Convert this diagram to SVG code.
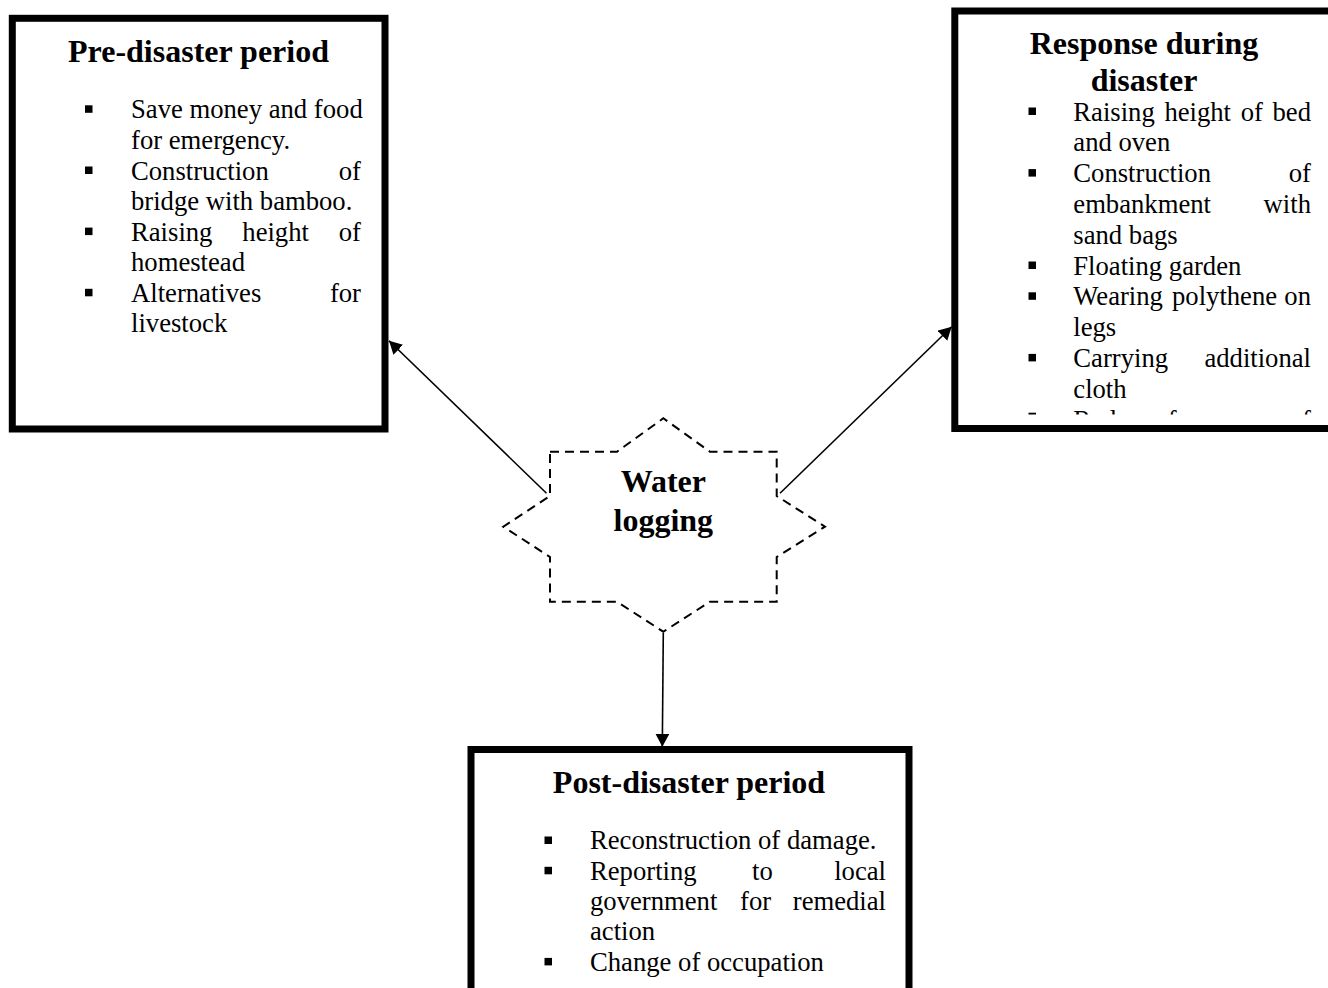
<svg xmlns="http://www.w3.org/2000/svg" width="1328" height="988" viewBox="0 0 1328 988">
  <style>
    .box { fill: #ffffff; stroke: #000000; stroke-width: 7; }
    .star { fill: #ffffff; stroke: #000000; stroke-width: 2; stroke-dasharray: 9 6; }
    .title { font-family: "Liberation Serif", "Times New Roman", serif; font-size: 32px; font-weight: bold; fill: #000000; text-anchor: middle; }
    .item { font-family: "Liberation Serif", "Times New Roman", serif; font-size: 26.67px; fill: #000000; }
    .end { text-anchor: end; }
    .bullet { fill: #000000; }
    .link { fill: none; stroke: #000000; stroke-width: 1.6; }
  </style>
  <defs>
    <marker id="arrow" viewBox="0 0 13 14" refX="13" refY="7" markerWidth="13" markerHeight="14" markerUnits="userSpaceOnUse" orient="auto">
      <path d="M0,0 L13,7 L0,14 Z" fill="#000000"/>
    </marker>
    <!-- text area of the response box ends above the bottom border -->
    <clipPath id="responseClip">
      <rect x="958" y="14" width="370" height="400.5"/>
    </clipPath>
  </defs>

  <rect x="0" y="0" width="1328" height="988" fill="#ffffff"/>

  <!-- Pre-disaster period -->
  <g id="node-pre-disaster">
    <rect class="box" x="12.3" y="18.3" width="372.7" height="410.7"/>
    <text class="title" x="198.5" y="62">Pre-disaster period</text>
    <rect class="bullet" x="85" y="105.3" width="7.5" height="7.5"/>
    <rect class="bullet" x="85" y="166.5" width="7.5" height="7.5"/>
    <rect class="bullet" x="85" y="227.6" width="7.5" height="7.5"/>
    <rect class="bullet" x="85" y="288.8" width="7.5" height="7.5"/>
    <text class="item" x="131" y="118.3">Save money and food</text>
    <text class="item" x="131" y="148.9">for emergency.</text>
    <text class="item" y="179.5"><tspan x="131">Construction</tspan><tspan class="end" x="361">of</tspan></text>
    <text class="item" x="131" y="210">bridge with bamboo.</text>
    <text class="item" y="240.6"><tspan x="131">Raising</tspan><tspan x="242.3">height</tspan><tspan class="end" x="361">of</tspan></text>
    <text class="item" x="131" y="271.2">homestead</text>
    <text class="item" y="301.8"><tspan x="131">Alternatives</tspan><tspan class="end" x="361">for</tspan></text>
    <text class="item" x="131" y="332.3">livestock</text>
  </g>

  <!-- Response during disaster -->
  <g id="node-response">
    <rect class="box" x="954.8" y="11" width="400" height="417.5"/>
    <text class="title" x="1144" y="53.5">Response during</text>
    <text class="title" x="1144" y="90.5">disaster</text>
    <g clip-path="url(#responseClip)">
      <rect class="bullet" x="1028.5" y="107.5" width="7.5" height="7.5"/>
      <rect class="bullet" x="1028.5" y="169.1" width="7.5" height="7.5"/>
      <rect class="bullet" x="1028.5" y="261.5" width="7.5" height="7.5"/>
      <rect class="bullet" x="1028.5" y="292.3" width="7.5" height="7.5"/>
      <rect class="bullet" x="1028.5" y="353.9" width="7.5" height="7.5"/>
      <rect class="bullet" x="1028.5" y="412.7" width="7.5" height="7.5"/>
      <text class="item" y="120.5"><tspan x="1073.3">Raising</tspan><tspan x="1164.4">height</tspan><tspan x="1240.7">of</tspan><tspan class="end" x="1311">bed</tspan></text>
      <text class="item" x="1073.3" y="151.3">and oven</text>
      <text class="item" y="182.1"><tspan x="1073.3">Construction</tspan><tspan class="end" x="1311">of</tspan></text>
      <text class="item" y="212.9"><tspan x="1073.3">embankment</tspan><tspan class="end" x="1311">with</tspan></text>
      <text class="item" x="1073.3" y="243.7">sand bags</text>
      <text class="item" x="1073.3" y="274.5">Floating garden</text>
      <text class="item" y="305.3"><tspan x="1073.3">Wearing</tspan><tspan x="1172">polythene</tspan><tspan class="end" x="1311">on</tspan></text>
      <text class="item" x="1073.3" y="336.1">legs</text>
      <text class="item" y="366.9"><tspan x="1073.3">Carrying</tspan><tspan class="end" x="1311">additional</tspan></text>
      <text class="item" x="1073.3" y="397.7">cloth</text>
      <text class="item" y="429"><tspan x="1073.3">Reduce</tspan><tspan x="1167.8">frequency</tspan><tspan class="end" x="1311">of</tspan></text>
    </g>
  </g>

  <!-- Post-disaster period -->
  <g id="node-post-disaster">
    <rect class="box" x="471" y="749.5" width="438" height="300"/>
    <text class="title" x="689" y="793.3">Post-disaster period</text>
    <rect class="bullet" x="544.5" y="836.5" width="7.5" height="7.5"/>
    <rect class="bullet" x="544.5" y="866.8" width="7.5" height="7.5"/>
    <rect class="bullet" x="544.5" y="957.9" width="7.5" height="7.5"/>
    <text class="item" x="590" y="849.3">Reconstruction of damage.</text>
    <text class="item" y="879.6"><tspan x="590">Reporting</tspan><tspan x="752">to</tspan><tspan class="end" x="886">local</tspan></text>
    <text class="item" y="910"><tspan x="590">government</tspan><tspan x="740">for</tspan><tspan class="end" x="886">remedial</tspan></text>
    <text class="item" x="590" y="940.3">action</text>
    <text class="item" x="590" y="970.7">Change of occupation</text>
  </g>

  <!-- Central hazard star -->
  <g id="node-water-logging">
    <polygon class="star" points="550,451.7 617,451.7 663.3,418.3 710,451.7 776.7,451.7 776.7,496 825,526.7 776.7,557 776.7,601.7 710,601.7 663.3,631.7 617,601.7 550,601.7 550,557 503.3,526.7 550,496"/>
    <text class="title" x="663.3" y="491.7">Water</text>
    <text class="title" x="663.3" y="530.5">logging</text>
  </g>

  <!-- Connectors -->
  <g id="connectors">
    <line class="link" x1="546.5" y1="493.3" x2="389" y2="340.7" marker-end="url(#arrow)"/>
    <line class="link" x1="780" y1="493.3" x2="951.7" y2="326.7" marker-end="url(#arrow)"/>
    <line class="link" x1="663.3" y1="633" x2="662.3" y2="746.7" marker-end="url(#arrow)"/>
  </g>
</svg>
